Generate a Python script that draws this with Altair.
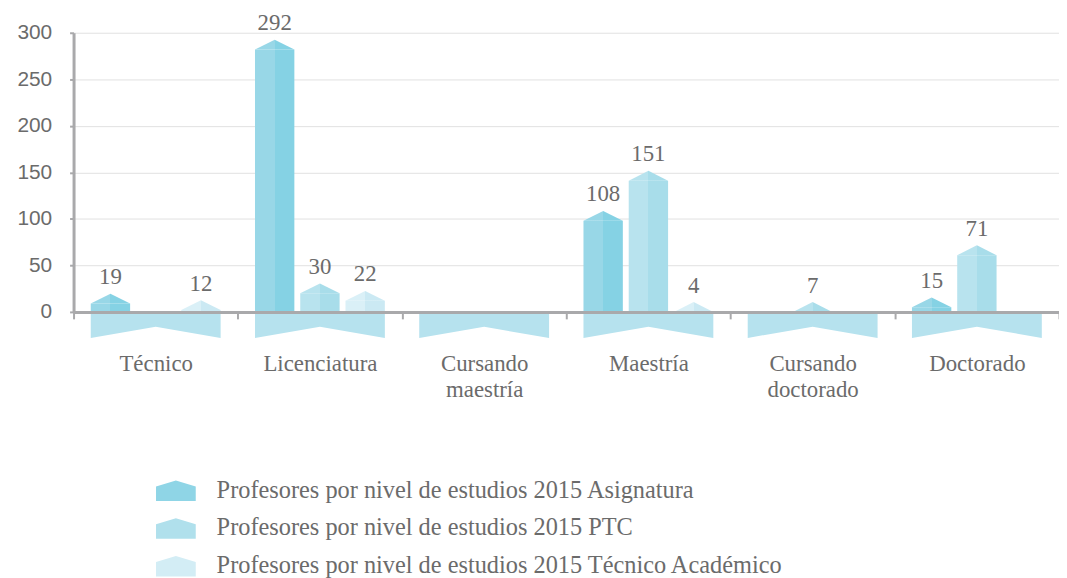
import altair as alt
import pandas as pd

categories = ["Técnico", "Licenciatura", "Cursando maestría", "Maestría",
              "Cursando doctorado", "Doctorado"]
series = ["Profesores por nivel de estudios 2015 Asignatura",
          "Profesores por nivel de estudios 2015 PTC",
          "Profesores por nivel de estudios 2015 Técnico Académico"]
asignatura = [19, 292, 0, 108, 0, 15]
ptc = [0, 30, 0, 151, 7, 71]
tecnico_academico = [12, 22, 0, 4, 0, 0]
y_ticks = [0, 50, 100, 150, 200, 250, 300]

left_colors = ["#98D7E7", "#B8E3EE", "#DAF0F7"]
right_colors = ["#85D2E4", "#A8DDEA", "#CBE9F3"]
mid_colors = ["#8FD5E6", "#B0E0EC", "#D3EDF5"]
floor_color = "#B6E2EE"
axis_color = "#A9A9AB"
grid_color = "#E1E1E1"
text_color = "#6B6B6B"

rows = []
for s, vals in zip(series, [asignatura, ptc, tecnico_academico]):
    for c, v in zip(categories, vals):
        rows.append({"category": c, "series": s, "value": v})
df = pd.DataFrame(rows)
cat_df = pd.DataFrame({"category": categories})

W, H = 992, 281
PI, PO = 0.13, 0.38
band = W / len(categories)
step = band / (3 - PI + 2 * PO)
bar_w = step * (1 - PI)
floor_w = step * (3 - PI)
ROOF = 10  # roof height in data units

roof_path = "M-1,0L0,-0.5L1,0Z"
floor_path = "M-1,0L1,0L1,0.4L0,0.23L-1,0.4Z"
legend_path = "M-1.333,0.683L-1.333,-0.283L0,-0.683L1.333,-0.283L1.333,0.683Z"

x_enc = alt.X("category:N",
              scale=alt.Scale(domain=categories, paddingInner=0, paddingOuter=0),
              axis=alt.Axis(title=None, labelAngle=0, tickBand="extent",
                            domainColor=axis_color, domainWidth=3,
                            tickColor=axis_color, tickWidth=2, tickSize=7,
                            labelFont="Liberation Serif", labelFontSize=23,
                            labelColor=text_color, labelPadding=34,
                            labelLineHeight=26, zindex=1,
                            labelExpr="length(datum.label) > 13 ? split(datum.label, ' ') : datum.label"))
xo_enc = alt.XOffset("series:N",
                     scale=alt.Scale(domain=series, paddingInner=PI, paddingOuter=PO))
y_scale = alt.Scale(domain=[0, 300], nice=False)
y_axis = alt.Axis(title=None, values=y_ticks, grid=True, gridColor=grid_color,
                  domainColor=axis_color, domainWidth=3, tickColor=axis_color,
                  tickWidth=2, tickSize=4, labelFont="Liberation Sans",
                  labelFontSize=21, labelColor=text_color, labelPadding=18)

base = alt.Chart(df).transform_filter("datum.value > 0").transform_calculate(
    shoulder=f"max(datum.value - {ROOF}, 0)",
    peak=f"max(datum.value, {ROOF})")

floor = alt.Chart(cat_df).mark_point(
    shape=floor_path, size=floor_w ** 2, filled=True, color=floor_color,
    opacity=1, strokeWidth=0).encode(
    x=x_enc, y=alt.Y(datum=0, scale=y_scale, axis=y_axis))

layers = [floor]
for i, s in enumerate(series):
    grad = alt.LinearGradient(
        gradient="linear", x1=0, x2=1, y1=0, y2=0,
        stops=[alt.GradientStop(offset=0, color=left_colors[i]),
               alt.GradientStop(offset=0.5, color=left_colors[i]),
               alt.GradientStop(offset=0.5, color=right_colors[i]),
               alt.GradientStop(offset=1, color=right_colors[i])])
    sub = base.transform_filter(alt.datum.series == s)
    bars = sub.mark_bar(fill=grad).encode(
        x=x_enc, xOffset=xo_enc,
        y=alt.Y("shoulder:Q", scale=y_scale, axis=y_axis), y2=alt.datum(0))
    roofs = sub.mark_point(shape=roof_path, size=bar_w ** 2, filled=True,
                           fill=grad, opacity=1, strokeWidth=0).encode(
        x=x_enc, xOffset=xo_enc, y=alt.Y("shoulder:Q", scale=y_scale, axis=y_axis))
    layers += [bars, roofs]

labels = base.mark_text(font="Liberation Serif", fontSize=23, color=text_color,
                        baseline="alphabetic", dy=-10).encode(
    x=x_enc, xOffset=xo_enc, y=alt.Y("peak:Q", scale=y_scale, axis=y_axis),
    text="value:Q")

legend_layer = base.mark_point(filled=True, opacity=0).encode(
    x=x_enc, xOffset=xo_enc, y=alt.Y("peak:Q", scale=y_scale, axis=y_axis),
    color=alt.Color("series:N", scale=alt.Scale(domain=series, range=mid_colors),
                    legend=alt.Legend(title=None, orient="none", legendX=88,
                                      legendY=446, direction="vertical",
                                      symbolType=legend_path, symbolSize=900,
                                      symbolOpacity=1, symbolStrokeWidth=0,
                                      labelFont="Liberation Serif",
                                      labelFontSize=24.5, labelColor=text_color,
                                      labelOffset=26, labelLimit=700,
                                      rowPadding=11, padding=0)))

layers += [labels, legend_layer]

chart = alt.layer(*layers).properties(
    width=W, height=H,
    autosize=alt.AutoSizeParams(type="none"),
    padding={"left": 66, "top": 23, "right": 0, "bottom": 275},
).configure_view(stroke=None)

chart.save("out.html", embed_options={"renderer": "svg", "actions": False})
